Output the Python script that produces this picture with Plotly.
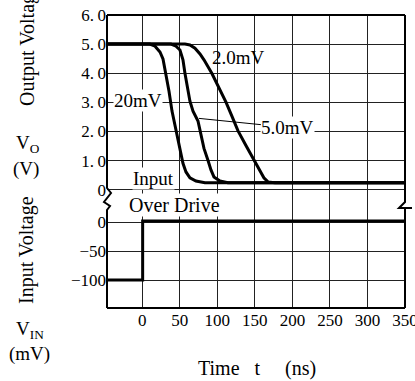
import plotly.graph_objects as go

# ---------------- data ----------------
time_ticks = [0, 50, 100, 150, 200, 250, 300, 350]
time_tick_labels = ["0", "50", "100", "150", "200", "250", "300", "350"]
vo_ticks = [0, 1, 2, 3, 4, 5, 6]
vo_tick_labels = ["0", "1.\u20090", "2.\u20090", "3.\u20090", "4.\u20090", "5.\u20090", "6.\u20090"]
vin_ticks = [0, -50, -100]
vin_tick_labels = ["0", "\u221250", "\u2212100"]

# Output voltage, 20 mV overdrive
t_20mv = [-47, 10, 17, 23.6, 27.6, 31.6, 35.6, 39.6, 44.9, 50.2, 54.2, 58.2, 63.5, 71.5, 83.5, 350]
v_20mv = [5.0, 5.0, 4.93, 4.73, 4.49, 3.99, 3.38, 2.70, 2.03, 1.42, 0.91, 0.61, 0.41, 0.30, 0.24, 0.24]
# Output voltage, 5.0 mV overdrive
t_5mv = [-47, 30, 38.2, 44.9, 50.2, 54.2, 56.9, 63.5, 67.6, 74.2, 76.9, 82.2, 87.5, 91.5, 95.5, 103.5, 114.2, 350]
v_5mv = [5.0, 5.0, 5.0, 4.93, 4.80, 4.46, 3.99, 3.04, 2.70, 2.36, 2.03, 1.42, 1.01, 0.68, 0.44, 0.30, 0.24, 0.24]
# Output voltage, 2.0 mV overdrive
t_2mv = [-47, 50, 56.9, 63.5, 70.2, 76.9, 82.2, 92.8, 103.5, 111.5, 119.4, 127.4, 138.1, 147.4, 156.7, 162.0, 167.4, 176.7, 350]
v_2mv = [5.0, 5.0, 5.0, 4.97, 4.86, 4.66, 4.46, 3.99, 3.45, 3.01, 2.53, 2.03, 1.52, 1.08, 0.64, 0.41, 0.27, 0.24, 0.24]
# Input voltage step
t_in = [-47, 0.5, 0.5, 350]
v_in = [-100, -100, 2, 2]

# ---------------- figure ----------------
W, H = 415, 381
L, R, T, B = 107, 10, 15, 73
PW, PH = W - L - R, H - T - B
SPLIT = 0.348

def px(x):
    return (x - L) / PW

def py(y):
    return (H - B - y) / PH

FONT = "Liberation Serif"
line_style = dict(color="black", width=3)

fig = go.Figure()
for tt, vv in [(t_20mv, v_20mv), (t_5mv, v_5mv), (t_2mv, v_2mv)]:
    fig.add_trace(go.Scatter(x=tt, y=vv, mode="lines", line=line_style,
                             xaxis="x2", yaxis="y2", showlegend=False, hoverinfo="skip"))
fig.add_trace(go.Scatter(x=t_in, y=v_in, mode="lines", line=line_style,
                         xaxis="x", yaxis="y", showlegend=False, hoverinfo="skip"))

tickfont = dict(family=FONT, size=17, color="black")
grid = dict(showgrid=True, gridcolor="#222", gridwidth=1, zeroline=False, showline=False,
            ticks="", automargin=False)

fig.update_layout(
    width=W, height=H,
    margin=dict(l=L, r=R, t=T, b=B, autoexpand=False),
    paper_bgcolor="white", plot_bgcolor="white",
    xaxis=dict(domain=[0, 1], range=[-47, 350], anchor="y", tickvals=time_ticks,
               ticktext=time_tick_labels, tickfont=tickfont, ticklabeloverflow="allow", **grid),
    xaxis2=dict(domain=[0, 1], range=[-47, 350], anchor="y2", matches="x",
                tickvals=time_ticks, showticklabels=False, **grid),
    yaxis=dict(domain=[0, SPLIT], range=[-148.3, 27.6], anchor="x", tickvals=vin_ticks,
               ticktext=vin_tick_labels, tickfont=tickfont, **grid),
    yaxis2=dict(domain=[SPLIT, 1], range=[-0.56, 6.0], anchor="x2", tickvals=vo_ticks,
                ticktext=vo_tick_labels, tickfont=tickfont, **grid),
)

# borders with breaks
bl = dict(color="black", width=2)
shapes = [
    dict(type="line", xref="paper", yref="paper", x0=0, x1=1, y0=1, y1=1, line=bl),
    dict(type="line", xref="paper", yref="paper", x0=0, x1=1, y0=0, y1=0, line=bl),
    dict(type="path", xref="paper", yref="paper", line=bl,
         path=f"M {px(107)},1 L {px(107)},{py(188)} L {px(111)},{py(193)} L {px(104)},{py(202)} "
              f"L {px(110)},{py(206)} L {px(107)},{py(210)} L {px(107)},0"),
    dict(type="path", xref="paper", yref="paper", line=bl,
         path=f"M {px(405)},1 L {px(405)},{py(202)} L {px(399)},{py(208)} L {px(412)},{py(208)} "
              f"M {px(405)},{py(208)} L {px(405)},0"),
]
fig.update_layout(shapes=shapes)

tf = dict(family=FONT, size=19, color="black")
big = dict(family=FONT, size=20, color="black")
pa = dict(xref="paper", yref="paper", showarrow=False, xanchor="center", yanchor="middle")
ann = [
    dict(text="Output Voltage", x=px(27), y=py(46), textangle=-90, font=big, **pa),
    dict(text="V<sub>O</sub>", x=px(28), y=py(144), font=tf, **pa),
    dict(text="(V)", x=px(26), y=py(169), font=tf, **pa),
    dict(text="Input Voltage", x=px(27), y=py(250), textangle=-90, font=big, **pa),
    dict(text="V<sub>IN</sub>", x=px(30), y=py(330), font=tf, **pa),
    dict(text="(mV)", x=px(29), y=py(354), font=tf, **pa),
    dict(text="Time\u00a0\u00a0\u00a0t\u00a0\u00a0\u00a0\u00a0\u00a0(ns)", x=px(257), y=py(368),
         font=big, **pa),
    dict(text="2.0mV", xref="x2", yref="y2", x=128.8, y=4.53, showarrow=False, font=tf),
    dict(text="20mV", xref="x2", yref="y2", x=-5.7, y=3.06, showarrow=False, font=tf,
         bgcolor="white", borderpad=0),
    dict(text="5.0mV", xref="x2", yref="y2", x=75.5, y=2.45, axref="x2", ayref="y2",
         ax=194, ay=2.14, showarrow=True, arrowhead=0, arrowwidth=1, arrowcolor="black",
         font=tf, bgcolor="white", borderpad=0),
    dict(text="Input", xref="x2", yref="y2", x=14.3, y=0.40, showarrow=False, font=tf,
         bgcolor="white", borderpad=0),
    dict(text="Over Drive", xref="x2", yref="paper", x=43.3, y=py(205), showarrow=False,
         yanchor="middle", font=big, bgcolor="white", borderpad=0),
]
fig.update_layout(annotations=ann)

fig.write_html("out.html")
